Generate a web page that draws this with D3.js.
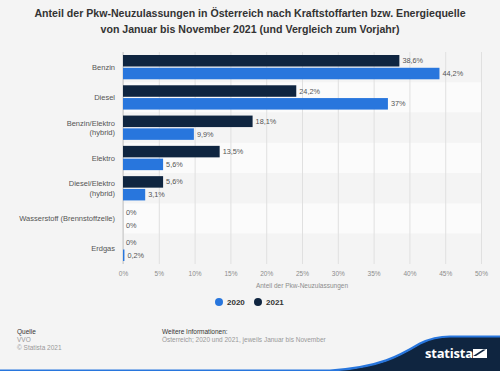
<!DOCTYPE html>
<html>
<head>
<meta charset="utf-8">
<script src="https://d3js.org/d3.v7.min.js"></script>
<style>
  body { margin: 0; background: #f4f4f4; }
  svg { display: block; font-family: "Liberation Sans", Arial, sans-serif; }
  .axis path { display: none; }
  .axis line { stroke: #e0e0e0; }
  .axis text { fill: #8c8c8c; font-size: 6.5px; }
</style>
</head>
<body>
<script>
// data
var categories = ["Benzin", "Diesel", "Benzin/Elektro\n(hybrid)", "Elektro",
                  "Diesel/Elektro\n(hybrid)", "Wasserstoff (Brennstoffzelle)", "Erdgas"];
var years = ["2021", "2020"];
var values2021 = [38.6, 24.2, 18.1, 13.5, 5.6, 0, 0];
var values2020 = [44.2, 37, 9.9, 5.6, 3.1, 0, 0.2];
var xTicks = [0, 5, 10, 15, 20, 25, 30, 35, 40, 45, 50];

var colors = { "2020": "#2876dd", "2021": "#0f2540" };

var W = 500, H = 371;
var margin = { top: 52, right: 19, bottom: 107, left: 123 };
var pw = W - margin.left - margin.right;
var ph = H - margin.top - margin.bottom;

var svg = d3.select("body").append("svg")
  .attr("width", W).attr("height", H);

svg.append("rect").attr("width", W).attr("height", H).attr("fill", "#f4f4f4");

// title
var title = svg.append("text")
  .attr("x", W / 2).attr("text-anchor", "middle")
  .attr("font-size", "10.6px").attr("font-weight", "bold").attr("fill", "#333");
title.append("tspan").attr("x", W / 2).attr("y", 17)
  .text("Anteil der Pkw-Neuzulassungen in Österreich nach Kraftstoffarten bzw. Energiequelle");
title.append("tspan").attr("x", W / 2).attr("y", 33)
  .text("von Januar bis November 2021 (und Vergleich zum Vorjahr)");

var g = svg.append("g")
  .attr("transform", "translate(" + margin.left + "," + margin.top + ")");

var x = d3.scaleLinear().domain([0, 50]).range([0, pw]);
var y0 = d3.scaleBand().domain(categories).range([0, ph]);
var y1 = d3.scaleBand().domain(years).range([3, y0.bandwidth() - 3]).paddingInner(0.1);

// alternating rows
g.selectAll(".row").data(categories).enter().append("rect")
  .attr("x", 0).attr("width", pw)
  .attr("y", function(d) { return y0(d); })
  .attr("height", y0.bandwidth())
  .attr("fill", function(d, i) { return i % 2 ? "#fbfbfb" : "#f4f4f4"; });

// grid + tick labels
var xAxis = d3.axisBottom(x).tickValues(xTicks)
  .tickSize(ph).tickFormat(function(d) { return d + "%"; });
g.append("g").attr("class", "axis").call(xAxis)
  .selectAll("text").attr("dy", 9);

g.append("line").attr("x1", 0).attr("x2", 0).attr("y1", 0).attr("y2", ph)
  .attr("stroke", "#c8c8c8");

g.append("text")
  .attr("x", pw / 2).attr("y", ph + 24)
  .attr("text-anchor", "middle").attr("font-size", "6.5px").attr("fill", "#8c8c8c")
  .text("Anteil der Pkw-Neuzulassungen");

// bars
var fmt = d3.formatLocale({ decimal: ",", thousands: ".", grouping: [3], currency: ["", "€"] }).format("~r");
var rows = categories.map(function(c, i) {
  return { cat: c, vals: [{ year: "2021", v: values2021[i] }, { year: "2020", v: values2020[i] }] };
});

var cg = g.selectAll(".cat").data(rows).enter().append("g")
  .attr("transform", function(d) { return "translate(0," + y0(d.cat) + ")"; });

cg.selectAll("rect").data(function(d) { return d.vals; }).enter().append("rect")
  .attr("x", 0)
  .attr("y", function(d) { return y1(d.year); })
  .attr("width", function(d) { return x(d.v); })
  .attr("height", y1.bandwidth())
  .attr("fill", function(d) { return colors[d.year]; });

cg.selectAll(".val").data(function(d) { return d.vals; }).enter().append("text")
  .attr("x", function(d) { return x(d.v) + 3; })
  .attr("y", function(d) { return y1(d.year) + y1.bandwidth() / 2; })
  .attr("dy", "0.35em")
  .attr("font-size", "7.3px").attr("fill", "#555")
  .text(function(d) { return fmt(d.v) + "%"; });

// category labels
cg.append("text")
  .attr("text-anchor", "end").attr("font-size", "7.5px").attr("fill", "#555")
  .each(function(d) {
    var lines = d.cat.split("\n");
    var t = d3.select(this);
    var cy = y0.bandwidth() / 2;
    lines.forEach(function(l, i) {
      t.append("tspan").attr("x", -8)
        .attr("y", cy + (i - (lines.length - 1) / 2) * 9.5)
        .attr("dy", "0.35em").text(l);
    });
  });

// legend
var legend = svg.append("g").attr("transform", "translate(219,302)");
["2020", "2021"].forEach(function(yr, i) {
  var lg = legend.append("g").attr("transform", "translate(" + (i * 39) + ",0)");
  lg.append("circle").attr("r", 4).attr("fill", colors[yr]);
  lg.append("text").attr("x", 8).attr("dy", "0.35em")
    .attr("font-size", "8px").attr("font-weight", "bold").attr("fill", "#333").text(yr);
});

// footer
var foot = svg.append("g").attr("font-size", "6.5px");
foot.append("text").attr("x", 17).attr("y", 334).attr("fill", "#333").text("Quelle");
foot.append("text").attr("x", 17).attr("y", 342).attr("fill", "#999").text("VVO");
foot.append("text").attr("x", 17).attr("y", 350).attr("fill", "#999").text("© Statista 2021");
foot.append("text").attr("x", 162).attr("y", 334).attr("fill", "#333").text("Weitere Informationen:");
foot.append("text").attr("x", 162).attr("y", 342).attr("fill", "#999")
  .text("Österreich; 2020 und 2021, jeweils Januar bis November");

// logo band
svg.append("path")
  .attr("d", "M330,371 C380,368 400,356 420,344 C430,339 438,337 450,337 L500,337 L500,371 Z")
  .attr("fill", "#0f2540");
svg.append("path")
  .attr("d", "M0,370.5 L330,370.5 C380,367.5 400,355.5 420,343.5 C430,338.5 438,336.5 450,336.5 L500,336.5")
  .attr("fill", "none").attr("stroke", "#2876dd").attr("stroke-width", 2.2);
svg.append("text").attr("x", 425).attr("y", 358)
  .attr("font-size", "13px").attr("font-weight", "bold").attr("fill", "#fff")
  .attr("font-family", "'Open Sans', sans-serif").attr("letter-spacing", "-0.2")
  .text("statista");
svg.append("path")
  .attr("d", "M473,349 L487,349 L487,358 L473,358 Z")
  .attr("fill", "#fff");
svg.append("path")
  .attr("d", "M473,356 L483,349.5 L486,349.5 L476,356 Z")
  .attr("fill", "#0f2540");
</script>
</body>
</html>
